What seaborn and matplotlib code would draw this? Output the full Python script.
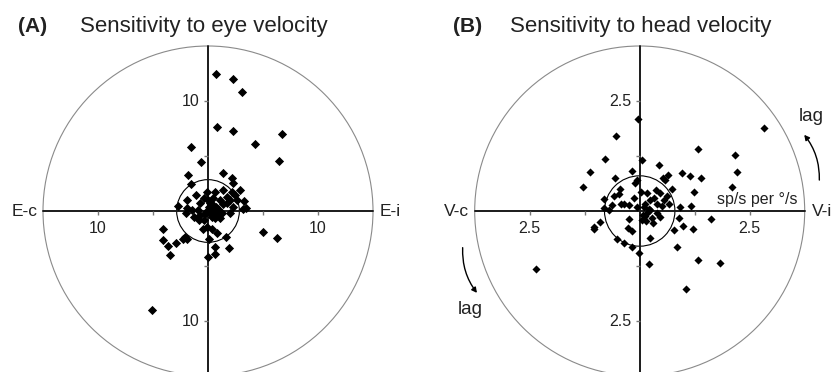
import numpy as np
import matplotlib
matplotlib.use("Agg")
import matplotlib.pyplot as plt
from matplotlib.patches import Circle, FancyArrowPatch
import seaborn as sns

# (A) sensitivity to eye velocity, E-i (+x) / E-c (-x)
eye_x = [0.73, 2.30, 3.06, 0.79, 2.24, 6.70, 4.27, 6.48, -1.58, -0.61,
         -1.85, 1.39, 2.21, 2.30, -1.52, 2.91, 2.48, 3.30, 3.42, 3.21,
         1.33, 0.64, -0.12, -1.12, -1.88, -2.70, -1.94, -2.00, -1.48, -0.88,
         -1.24, -0.82, -0.36, -0.48, -0.12, 0.39, 0.79, 0.09, 1.64, 0.61,
         1.94, 0.64, 0.03, -2.09, -1.88, -2.30, -2.91, -4.06, -4.12, -3.67,
         -3.45, -5.09, 5.00, 6.30, 0.12, 0.48, 0.94, 1.24, 1.70, 2.00,
         2.30, 2.61, 0.79, 0.33, -0.18, 0.03, -0.73, -0.36, 1.09, 0.64,
         1.09, 2.00, -0.73, 0.48, 0.18, 0.73, 1.70, 2.15, 0.48, 0.30,
         0.55, 0.90, 1.40, -0.30, 0.20]
eye_y = [12.50, 11.97, 10.79, 7.67, 7.24, 7.03, 6.09, 4.55, 5.82, 4.42,
         3.30, 3.45, 2.97, 2.52, 2.48, 1.91, 1.45, 0.88, 0.30, 0.18,
         1.94, 1.76, 1.76, 1.45, 0.97, 0.45, 0.24, -0.21, 0.09, 0.09,
         -0.52, -0.82, -0.82, -1.67, -1.42, -1.64, -2.03, -2.58, -2.33, -3.30,
         -3.39, -3.91, -4.15, -2.39, -2.58, -2.58, -2.94, -1.67, -2.61, -3.15,
         -4.00, -9.03, -1.88, -2.45, 0.39, 0.55, 0.09, -0.21, 0.70, 1.00,
         0.39, 1.00, -0.36, -0.52, -0.06, 1.00, 0.70, 1.15, 1.00, -0.67,
         -0.67, -0.21, -0.36, 0.09, -0.21, 0.39, 1.30, 1.76, 1.15, 0.30,
         -0.10, 0.20, 0.60, -0.30, 0.70]

# (B) sensitivity to head velocity, V-i (+x) / V-c (-x)
head_x = [-0.05, 2.82, -0.55, 1.33, 2.17, -0.78, 0.06, -1.14, 2.20, 0.44,
          0.97, 1.14, 1.39, 2.10, -1.29, -0.56, -0.06, -0.10, -0.17, 0.64,
          0.53, 0.73, 1.23, 1.17, 0.92, -0.82, -0.82, -0.44, -0.59, -0.42,
          -0.25, -0.14, 0.03, 0.17, 0.36, 0.24, 0.39, 0.55, 0.66, 0.09,
          0.17, 0.24, 0.05, 0.47, -0.91, -1.05, -1.05, -0.25, -0.27, -0.17,
          -0.52, -0.36, -0.17, -0.02, 0.24, 0.20, 0.89, 0.98, 0.77, 1.20,
          0.85, 1.33, 1.83, 1.63, 1.05, -2.35, -0.64, -0.48, 0.33, 0.45,
          0.28, -0.06, 0.15, 0.39, 0.58, 0.13, 0.08, 0.20, 0.30, -0.35,
          0.50, 0.62, -0.70, 0.12]
head_y = [2.10, 1.88, 1.71, 1.40, 1.27, 1.19, 1.16, 0.88, 0.89, 1.05,
          0.86, 0.80, 0.74, 0.55, 0.55, 0.76, 0.70, 0.64, 0.92, 0.82,
          0.74, 0.50, 0.43, 0.11, 0.08, 0.27, 0.06, 0.49, 0.33, 0.17,
          0.14, 0.29, 0.44, 0.40, 0.48, 0.25, 0.17, 0.25, 0.17, 0.10,
          -0.05, 0.02, -0.20, -0.13, -0.26, -0.36, -0.40, -0.19, -0.39, -0.45,
          -0.64, -0.73, -0.81, -0.96, -0.62, -1.21, -0.17, -0.34, -0.43, -0.40,
          -0.81, -1.11, -1.19, -0.19, -1.77, -1.31, 0.13, 0.38, 0.29, 0.42,
          -0.17, 0.10, -0.22, -0.05, 0.70, 0.17, -0.08, 0.05, -0.28, 0.16,
          0.12, 0.35, 0.02, -0.12]

eye_ticks = [5, 10]
eye_labels = [10]
head_ticks = [1.25, 2.5]
head_labels = [2.5]

W, H = 834, 372
sns.set_style("white")
plt.rcParams['font.family'] = ['Liberation Sans', 'DejaVu Sans']

fig = plt.figure(figsize=(W / 100, H / 100), dpi=100)


def polar_panel(box, center, scale):
    # box and center in pixels from the bottom left; scale in px per unit
    x0, y0, w, h = box
    cx, cy = center
    ax = fig.add_axes([x0 / W, y0 / H, w / W, h / H])
    ax.set_xlim((x0 - cx) / scale, (x0 + w - cx) / scale)
    ax.set_ylim((y0 - cy) / scale, (y0 + h - cy) / scale)
    ax.axis('off')
    return ax


def draw_frame(ax, R, r_mean, ticks, labels, lab_fmt, ends):
    ax.add_patch(Circle((0, 0), R, fill=False, ec='#8a8a8a', lw=0.8, zorder=1))
    ax.add_patch(Circle((0, 0), r_mean, fill=False, ec='black', lw=0.8, zorder=2))
    ax.plot([-R, R], [0, 0], color='#1a1a1a', lw=1.4, zorder=2)
    ax.plot([0, 0], [-R, R], color='#1a1a1a', lw=1.4, zorder=2)
    tk = np.array(ticks + [-t for t in ticks])
    ax.plot(tk, np.zeros_like(tk), ls='none', marker=3, ms=3, color='#777777', zorder=2)
    ax.plot(np.zeros_like(tk), tk, ls='none', marker=0, ms=3, color='#777777', zorder=2)
    for v in labels:
        s = lab_fmt.format(v)
        for sgn in (1, -1):
            ax.annotate(s, (sgn * v, 0), xytext=(0, -7), textcoords='offset points',
                        ha='center', va='top', fontsize=11.5, color='#222222')
            ax.annotate(s, (0, sgn * v), xytext=(-6, 0), textcoords='offset points',
                        ha='right', va='center', fontsize=11.5, color='#222222')
    ax.annotate(ends[0], (-R, 0), xytext=(-4, 0), textcoords='offset points',
                ha='right', va='center', fontsize=12.5, color='#222222')
    ax.annotate(ends[1], (R, 0), xytext=(5, 0), textcoords='offset points',
                ha='left', va='center', fontsize=12.5, color='#222222')


# panel A
axA = polar_panel((5, 0, 400, 345), (208, 161), 11.0)
draw_frame(axA, 15, 2.85, eye_ticks, eye_labels, '{:g}', ('E-c', 'E-i'))
sns.scatterplot(x=eye_x, y=eye_y, ax=axA, marker='D', color='black', s=22,
                linewidth=0, zorder=3)

# panel B
axB = polar_panel((425, 0, 400, 345), (639.7, 161), 44.0)
draw_frame(axB, 3.75, 0.8, head_ticks, head_labels, '{:.1f}', ('V-c', 'V-i'))
sns.scatterplot(x=head_x, y=head_y, ax=axB, marker='D', color='black', s=17,
                linewidth=0, zorder=3)
axB.annotate('sp/s per \u00b0/s', (3.75, 0), xytext=(-5, 3), textcoords='offset points',
             ha='right', va='bottom', fontsize=11.5, color='#222222')
axB.text(3.9, 2.14, 'lag', ha='center', va='center', fontsize=13.5, color='#222222')
axB.text(-3.86, -2.25, 'lag', ha='center', va='center', fontsize=13.5, color='#222222')
for a, b in [((4.08, 0.64), (3.70, 1.78)), ((-4.02, -0.77), (-3.66, -1.91))]:
    axB.add_patch(FancyArrowPatch(a, b, connectionstyle='arc3,rad=0.2',
                                  arrowstyle='-|>,head_length=3,head_width=1.6',
                                  color='black', lw=1.0, clip_on=False))

# titles
fig.text(18 / W, 1 - 32 / H, '(A)', fontsize=15, fontweight='bold', color='#222222')
fig.text(80 / W, 1 - 32 / H, 'Sensitivity to eye velocity', fontsize=16, color='#222222')
fig.text(453 / W, 1 - 32 / H, '(B)', fontsize=15, fontweight='bold', color='#222222')
fig.text(510 / W, 1 - 32 / H, 'Sensitivity to head velocity', fontsize=16, color='#222222')

fig.savefig('out.png', dpi=100)
